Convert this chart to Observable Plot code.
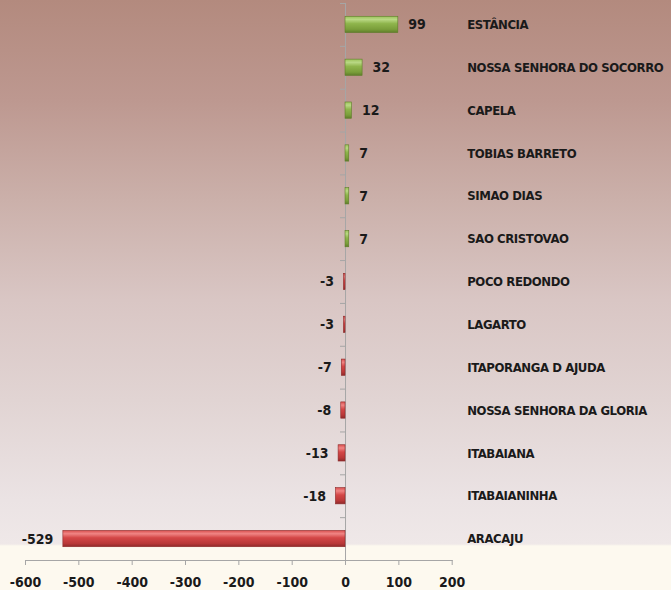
<!DOCTYPE html>
<html>
<head>
<meta charset="utf-8">
<script src="https://cdn.jsdelivr.net/npm/d3@7"></script>
<script src="https://cdn.jsdelivr.net/npm/@observablehq/plot@0.6"></script>
<style>
  html, body { margin: 0; padding: 0; background: #fdf9ef; }
  #chart svg { display: block; }
</style>
</head>
<body>
<div id="chart"></div>
<script>
const categories = ["ESTÂNCIA", "NOSSA SENHORA DO SOCORRO", "CAPELA", "TOBIAS BARRETO", "SIMAO DIAS", "SAO CRISTOVAO", "POCO REDONDO", "LAGARTO", "ITAPORANGA D AJUDA", "NOSSA SENHORA DA GLORIA", "ITABAIANA", "ITABAIANINHA", "ARACAJU"];
const values = [99, 32, 12, 7, 7, 7, -3, -3, -7, -8, -13, -18, -529];
const xTicks = [-600, -500, -400, -300, -200, -100, 0, 100, 200];

const data = categories.map((c, i) => ({name: c, value: values[i]}));
const pos = data.filter(d => d.value >= 0);
const neg = data.filter(d => d.value < 0);

const W = 671, H = 590;
const mT = 3, mB = 30, mL = 25, mR = 219.3;
const bw = (H - mT - mB) / categories.length;
const font = "'Liberation Sans Narrow', 'DejaVu Sans Condensed', 'Liberation Sans', sans-serif";

const chart = Plot.plot({
  width: W,
  height: H,
  marginTop: mT,
  marginBottom: mB,
  marginLeft: mL,
  marginRight: mR,
  style: {
    background: "linear-gradient(to bottom, #b38a7e 0px, #bd9890 100px, #cbb0aa 200px, #d9c6c4 300px, #e1d4d3 400px, #ebe3e4 500px, #efe8e8 544px, #fdf9ef 546px, #fdf9ef 590px)",
    fontFamily: font,
    fontWeight: "bold",
    fontSize: "14px",
    color: "#1a1a1a",
    overflow: "visible"
  },
  x: {domain: [-600, 200], ticks: xTicks, label: null},
  y: {domain: categories, paddingInner: 0.62, paddingOuter: 0.31, round: false, axis: null},
  marks: [
    Plot.frame({anchor: "bottom", stroke: "#a6a6a6"}),
    Plot.ruleX([0], {stroke: "#a6a6a6"}),
    Plot.ruleY(categories, {y: d => d, x1: -9.4, x2: 0, dy: -bw / 2, stroke: "#a6a6a6"}),
    Plot.axisX({ticks: xTicks, tickSize: 5, tickPadding: 12, stroke: "#a6a6a6", fill: "#1a1a1a", fontSize: 14, fontWeight: "bold", label: null, tickFormat: d => String(d)}),
    Plot.barX(pos, {x: "value", y: "name", fill: "url(#gGreen)", stroke: "#5f7d2a", strokeWidth: 0.6}),
    Plot.barX(neg, {x: "value", y: "name", fill: "url(#gRed)", stroke: "#8e2a2a", strokeWidth: 0.6}),
    Plot.text(pos, {x: "value", y: "name", text: d => String(d.value), textAnchor: "start", dx: 10, fill: "#1a1a1a", fontSize: 14, fontWeight: "bold"}),
    Plot.text(neg, {x: "value", y: "name", text: d => String(d.value), textAnchor: "end", dx: -10, fill: "#1a1a1a", fontSize: 14, fontWeight: "bold"}),
    Plot.text(data, {x: 200, y: "name", text: "name", textAnchor: "start", dx: 15, fill: "#1a1a1a", fontSize: 13, fontWeight: "bold", className: "catlab"})
  ]
});

const svg = d3.select(chart);
svg.selectAll(".catlab text").style("letter-spacing", "-0.4px");
const defs = svg.insert("defs", ":first-child");
function grad(id, stops) {
  const g = defs.append("linearGradient").attr("id", id).attr("x1", 0).attr("y1", 0).attr("x2", 0).attr("y2", 1);
  stops.forEach(([o, c]) => g.append("stop").attr("offset", o).attr("stop-color", c));
}
grad("gGreen", [[0, "#9cc25a"], [0.2, "#b9d884"], [0.45, "#8fb54c"], [0.8, "#7a9e3a"], [1, "#5f7d2a"]]);
grad("gRed", [[0, "#d9504f"], [0.2, "#f08584"], [0.45, "#d44747"], [0.8, "#b93838"], [1, "#8e2a2a"]]);

document.getElementById("chart").appendChild(chart);
</script>
</body>
</html>
